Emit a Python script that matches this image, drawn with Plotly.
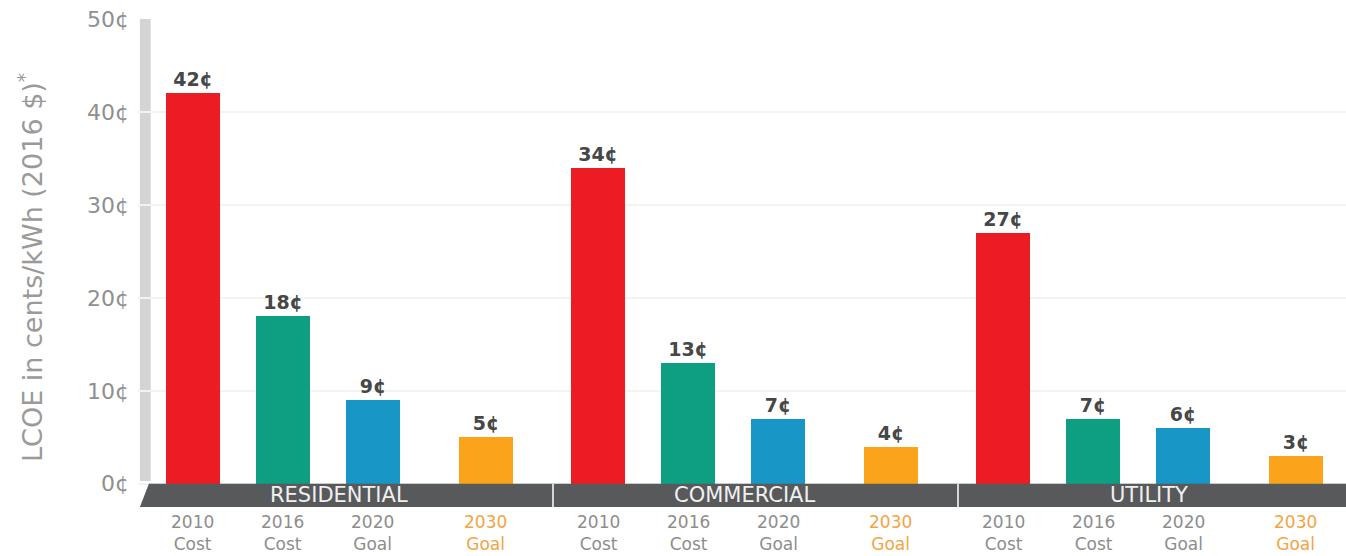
import plotly.graph_objects as go

# Levelized cost of electricity by market segment, cents/kWh (2016 $)
segments = ["RESIDENTIAL", "COMMERCIAL", "UTILITY"]
milestones = ["2010<br>Cost", "2016<br>Cost", "2020<br>Goal", "2030<br>Goal"]
residential = [42, 18, 9, 5]
commercial = [34, 13, 7, 4]
utility = [27, 7, 6, 3]
y_ticks = [0, 10, 20, 30, 40, 50]
y_tick_labels = ["0¢", "10¢", "20¢", "30¢", "40¢", "50¢"]

milestone_colors = ["#ec1c24", "#0e9f83", "#1896c6", "#fba31a"]
label_colors = ["#8d8d8d", "#8d8d8d", "#8d8d8d", "#f2a444"]

# slot offsets inside a segment group, and spacing between groups
slot_offsets = [0.0, 1.0, 2.0, 3.25]
group_step = 4.5
bar_width = 0.6

FONT = "DejaVu Sans"
PLOT_LEFT, PLOT_BOTTOM, PLOT_H = 138, 507, 488

fig = go.Figure()

values_by_segment = [residential, commercial, utility]
xs, ys, cols = [], [], []
for g, vals in enumerate(values_by_segment):
    for s, v in enumerate(vals):
        xs.append(g * group_step + slot_offsets[s])
        ys.append(v)
        cols.append(milestone_colors[s])

fig.add_trace(go.Bar(
    x=xs, y=ys, width=bar_width,
    marker=dict(color=cols, line=dict(width=0)),
    texttemplate="%{y}¢", textposition="outside",
    textfont=dict(family=FONT, size=19, color="#474747", weight="bold"),
    cliponaxis=False, hoverinfo="skip", showlegend=False,
))

shapes = []
annotations = []

# left vertical rail
shapes.append(dict(type="rect", xref="x", yref="y", x0=-0.59, x1=-0.47,
                   y0=0.3, y1=50, fillcolor="#d4d4d4", line=dict(width=0), layer="below"))

# dark segment band along the baseline, with slanted left edge
x_right = 2 * group_step + 4.0
shapes.append(dict(type="path", xref="x", yref="y",
                   path=f"M -0.59,-2.5 L -0.49,0 L {x_right},0 L {x_right},-2.5 Z",
                   fillcolor="#58595b", line=dict(width=0), layer="above"))

for g, name in enumerate(segments):
    start = g * group_step
    center = start + (slot_offsets[0] + slot_offsets[-1]) / 2
    annotations.append(dict(x=center, y=-1.25, xref="x", yref="y", text=name,
                            showarrow=False, font=dict(family=FONT, size=21, color="#f0f0f0")))
    if g > 0:
        shapes.append(dict(type="line", xref="x", yref="y", x0=start - 0.5, x1=start - 0.5,
                           y0=-2.5, y1=0, line=dict(color="#ffffff", width=1.5), layer="above"))
    for s, lab in enumerate(milestones):
        annotations.append(dict(x=start + slot_offsets[s], y=0, xref="x", yref="paper",
                                yanchor="top", yshift=-3, text=lab, showarrow=False,
                                font=dict(family=FONT, size=17, color=label_colors[s])))

# rotated axis title, placed in pixels from the top-left corner
title_x_px, title_y_px = 30, 268
annotations.append(dict(x=-(PLOT_LEFT - title_x_px) / (1346 - PLOT_LEFT), xref="paper",
                        y=(PLOT_BOTTOM - title_y_px) / PLOT_H, yref="paper",
                        xanchor="center", yanchor="middle",
                        text="LCOE in cents/kWh (2016 $)<sup>*</sup>", textangle=-90,
                        showarrow=False, font=dict(family=FONT, size=27, color="#9a9a9a")))

fig.update_layout(
    width=1346, height=556,
    margin=dict(l=PLOT_LEFT, r=0, t=19, b=556 - PLOT_BOTTOM),
    plot_bgcolor="white", paper_bgcolor="white",
    bargap=0,
    shapes=shapes, annotations=annotations,
    xaxis=dict(range=[-0.611, 12.811], showticklabels=False, showgrid=False,
               zeroline=False, showline=False, fixedrange=True),
    yaxis=dict(range=[-2.5, 50], tickvals=y_ticks, ticktext=y_tick_labels,
               tickfont=dict(family=FONT, size=22, color="#8f8f8f"),
               ticklabelstandoff=8,
               showgrid=True, gridcolor="#f3f3f3", gridwidth=2,
               zeroline=False, showline=False, fixedrange=True),
)

fig.write_html("out.html")
